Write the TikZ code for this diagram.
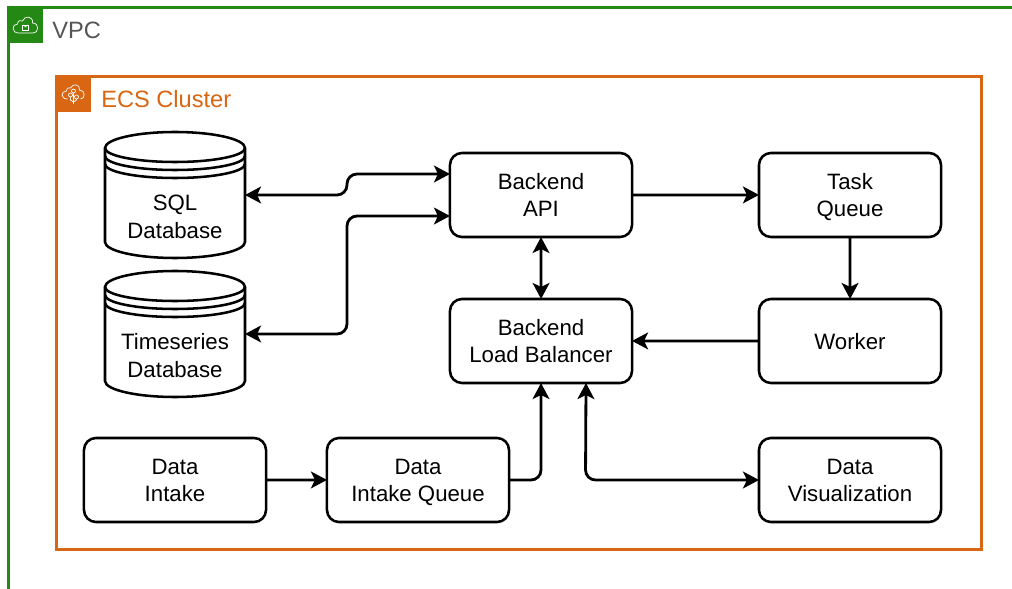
\documentclass[tikz,border=0pt]{standalone}
\usepackage{fontspec}
\setmainfont{Liberation Sans}
\usepackage{tikz}
\usetikzlibrary{arrows.meta}
\usetikzlibrary{positioning}
\definecolor{mgreen}{HTML}{248814}
\definecolor{morange}{HTML}{D86613}
\definecolor{mgrey}{HTML}{555555}
\newcommand{\textstrut}{\rule[-3.5pt]{0pt}{19pt}}
\newcommand{\topstrut}{\rule{0pt}{34.7pt}}
\tikzset{box/.style = {draw, line width = 1.8pt, rounded corners = 0.3cm, outer sep = 0, minimum width = 4.55cm, minimum height = 2.1cm, align = center, font = \fontsize{15.8}{19.6}\selectfont, execute at begin node = \textstrut}}
\tikzset{twolines/.style = {execute at begin node = \topstrut}}
\tikzset{dbbox/.style = {inner sep = 0, outer sep = 0, minimum width = 3.5cm, minimum height = 3.15cm}}
\tikzset{dbtext/.style = {align = center, font = \fontsize{15.8}{19.6}\selectfont, twolines, execute at begin node = \textstrut}}
\tikzset{link/.style = {line width = 2pt, rounded corners = 0.25cm, >={Stealth[length = 0.4cm, width = 0.42cm, inset = 0.1cm]}}}
\tikzset{tab/.style = {inner sep = 0, outer sep = 0, minimum size = 0.88cm}}
\tikzset{icon/.style = {white, line width = 0.5pt}}
\tikzset{group/.style = {anchor = west, inner sep = 0, font = \fontsize{16.8}{20}\selectfont}}
\newcommand{\dbdraw}[1]{
  \begin{scope}[shift = {(#1.center)}, line width = 1.8pt]
    \draw [fill = white] (-70, -47) arc [start angle = 180, end angle = 360, x radius = 70, y radius = 16]
      -- (70, 47) arc [start angle = 0, end angle = 180, x radius = 70, y radius = 16] -- cycle;
    \draw (-70, -47) arc [start angle = 180, end angle = 0, x radius = 70, y radius = 14];
    \draw (-70, -39) arc [start angle = 180, end angle = 0, x radius = 70, y radius = 14];
    \draw (-70, -31) arc [start angle = 180, end angle = 0, x radius = 70, y radius = 14];
  \end{scope}
}
\begin{document}
\begin{tikzpicture}[x = 0.025cm, y = -0.025cm]
  \useasboundingbox (0, 0) rectangle (1012, 589);

  % groups
  \draw [mgreen, line width = 1.8pt] (8.5, 589) -- (8.5, 7.5) -- (1012, 7.5);
  \draw [morange, line width = 1.8pt] (56.5, 76.5) rectangle (981.5, 549.5);

  \node [tab, fill = mgreen] (vpctab) at (25.5, 25) {};
  \node [tab, fill = morange] (ecstab) at (73.5, 94) {};
  \node [group, text = mgrey] (vpclabel) at (52, 30) {VPC};
  \node [group, text = morange] (ecslabel) at (101, 99) {ECS Cluster};

  % cloud icons
  \begin{scope}[shift = {(vpctab.center)}, icon]
    \draw (-7, 8) .. controls (-14, 8) and (-14, -1) .. (-8, -1) .. controls (-8, -5) and (-4, -5) .. (-3, -4)
      .. controls (-1, -10) and (8, -9) .. (7, -2) .. controls (14, -2) and (14, 8) .. (7, 8) -- cycle;
    \draw (-3, 0) rectangle (3, 5);
    \draw (-1.8, 0) arc [start angle = 180, end angle = 0, radius = 1.8];
  \end{scope}
  \begin{scope}[shift = {(ecstab.center)}, icon]
    \draw (-6, 5) .. controls (-13, 5) and (-13, -3) .. (-7, -3) .. controls (-7, -6) and (-4, -7) .. (-3, -6)
      .. controls (-1, -11) and (7, -10) .. (6, -4) .. controls (12, -4) and (12, 5) .. (7, 5);
    \draw (-3, 1) circle (2);
    \draw (3, 3) circle (2);
    \draw (0, -3) circle (2);
    \draw (0, -1) -- (0, 10);
    \draw (-3, 3) -- (-3, 6) -- (0, 8);
    \draw (3, 5) -- (3, 6) -- (0, 8);
  \end{scope}

  % services
  \node [box, twolines] (api) at (541, 195) {Backend\\API};
  \node [box, twolines] (queue) at (850, 195) {Task\\Queue};
  \node [box, twolines] (balancer) at (541, 341) {Backend\\Load Balancer};
  \node [box] (worker) at (850, 341) {Worker};
  \node [box, twolines] (intake) at (175, 480) {Data\\Intake};
  \node [box, twolines] (intakequeue) at (418, 480) {Data\\Intake Queue};
  \node [box, twolines] (viz) at (850, 480) {Data\\Visualization};

  % databases
  \node [dbbox] (sql) at (175, 195) {};
  \node [dbbox] (series) at (175, 334) {};
  \dbdraw{sql}
  \dbdraw{series}
  \node [dbtext] (sqltext) at (175, 216.5) {SQL\\Database};
  \node [dbtext] (seriestext) at (175, 355.5) {Timeseries\\Database};

  % connectors
  \draw [link, <->] (sql.east) -- (347, 195) -- (347, 174) -- ([yshift = 0.525cm] api.west);
  \draw [link, <->] (series.east) -- (347, 334) -- (347, 216) -- ([yshift = -0.525cm] api.west);
  \draw [link, ->] (api.east) -- ([yshift = 0.05pt] queue.west);
  \draw [link, ->] (queue.south) -- ([xshift = 0.05pt] worker.north);
  \draw [link, ->] (worker.west) -- ([yshift = 0.05pt] balancer.east);
  \draw [link, <->] (api.south) -- ([xshift = 0.05pt] balancer.north);
  \draw [link, ->] (intake.east) -- ([yshift = 0.05pt] intakequeue.west);
  \draw [link, ->] (intakequeue.east) -- (541, 480) -- (balancer.south);
  \draw [link, <->] ([xshift = 1.125cm] balancer.south) -- (585.5, 480) -- (viz.west);
\end{tikzpicture}
\end{document}
